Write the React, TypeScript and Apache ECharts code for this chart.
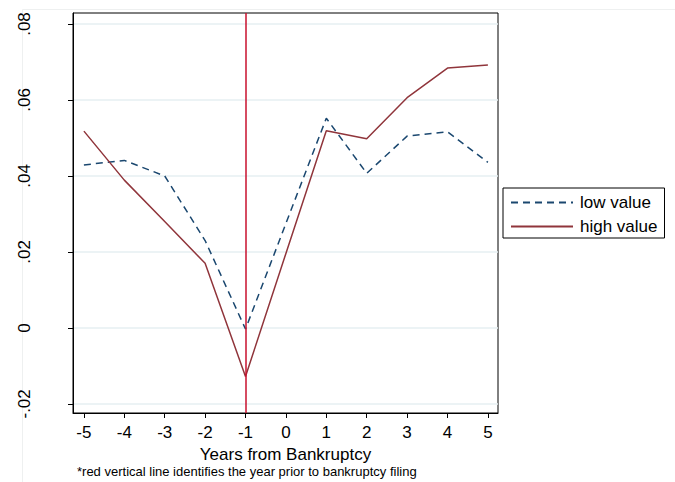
import React, { useEffect, useRef } from "react";
import * as echarts from "echarts";

const years = [-5, -4, -3, -2, -1, 0, 1, 2, 3, 4, 5];
const lowValue = [0.0429, 0.0441, 0.04, 0.023, -0.0003, 0.0275, 0.0552, 0.0407, 0.0505, 0.0516, 0.0436];
const highValue = [0.0518, 0.0389, 0.028, 0.017, -0.0128, 0.0196, 0.0519, 0.0498, 0.0606, 0.0684, 0.0692];
const yTicks = [-0.02, 0, 0.02, 0.04, 0.06, 0.08];
const xTicks = [-5, -4, -3, -2, -1, 0, 1, 2, 3, 4, 5];
const bankruptcyYear = -1;
const seriesNames = ["low value", "high value"];
const xTitle = "Years from Bankruptcy";
const footnote = "*red vertical line identifies the year prior to bankruptcy filing";

const FONT = "'Liberation Sans', Arial, sans-serif";

function fmtY(v: number): string {
  if (Math.abs(v) < 1e-9) return "0";
  const s = v.toFixed(2);
  return s.replace(/^(-?)0\./, "$1.");
}

export default function App() {
  const ref = useRef<HTMLDivElement>(null);
  useEffect(() => {
    if (!ref.current) return;
    const chart = echarts.init(ref.current, null, { renderer: "svg" });
    chart.setOption({
      animation: false,
      backgroundColor: "#ffffff",
      textStyle: { fontFamily: FONT },
      grid: {
        left: 73,
        top: 13,
        right: 177,
        bottom: 69,
        show: true,
        borderColor: "#000000",
        borderWidth: 1,
        backgroundColor: "#ffffff",
      },
      legend: {
        orient: "vertical",
        left: 503,
        top: 188,
        padding: [6, 7, 3, 7],
        itemGap: 7,
        itemWidth: 62,
        itemHeight: 14,
        borderColor: "#000000",
        borderWidth: 1,
        backgroundColor: "#ffffff",
        itemStyle: { color: "transparent", borderWidth: 0, opacity: 0 },
        textStyle: { fontFamily: FONT, fontSize: 17, color: "#000000", padding: [0, 0, 0, 2] },
        data: seriesNames,
      },
      xAxis: {
        type: "value",
        min: -5.27,
        max: 5.25,
        name: xTitle,
        nameLocation: "middle",
        nameGap: 24,
        nameTextStyle: { fontFamily: FONT, fontSize: 17, color: "#000000" },
        axisLine: { show: true, onZero: false, lineStyle: { color: "#000000", width: 1 } },
        axisTick: { show: true, length: 5, customValues: xTicks, lineStyle: { color: "#000000" } },
        axisLabel: {
          customValues: xTicks,
          margin: 11,
          fontFamily: FONT,
          fontSize: 17,
          color: "#000000",
          formatter: (v: number) => String(v),
        },
        splitLine: { show: false },
      },
      yAxis: {
        type: "value",
        min: -0.0224,
        max: 0.0829,
        axisLine: { show: true, onZero: false, lineStyle: { color: "#000000", width: 1 } },
        axisTick: { show: true, length: 5, customValues: yTicks, lineStyle: { color: "#000000" } },
        axisLabel: {
          customValues: yTicks,
          rotate: 90,
          margin: 40,
          fontFamily: FONT,
          fontSize: 17,
          color: "#000000",
          formatter: (v: number) => fmtY(v),
        },
        splitLine: { show: true, lineStyle: { color: "#e6eff2", width: 1.5 } },
      },
      series: [
        {
          name: seriesNames[0],
          type: "line",
          data: years.map((x, i) => [x, lowValue[i]]),
          symbol: "none",
          lineStyle: { color: "#1a476f", width: 1.5, type: [7, 5] },
          itemStyle: { color: "#1a476f" },
          z: 3,
        },
        {
          name: seriesNames[1],
          type: "line",
          data: years.map((x, i) => [x, highValue[i]]),
          symbol: "none",
          lineStyle: { color: "#90353b", width: 1.5, type: "solid" },
          itemStyle: { color: "#90353b" },
          z: 3,
          markLine: {
            silent: true,
            symbol: "none",
            label: { show: false },
            lineStyle: { color: "#c8102e", width: 1.5, type: "solid" },
            data: [{ xAxis: bankruptcyYear }],
          },
        },
      ],
      graphic: [
        {
          type: "rect",
          left: 20,
          top: 7,
          shape: { x: 0, y: 0, width: 700, height: 500 },
          style: { fill: "none", stroke: "#eef0f0", lineWidth: 1 },
          silent: true,
          z: -10,
        },
        {
          type: "text",
          left: 77,
          top: 465,
          style: { text: footnote, fontFamily: FONT, fontSize: 13, fill: "#000000" },
        },
      ],
    });
    return () => chart.dispose();
  }, []);
  return (
    <div
      ref={ref}
      style={{ position: "absolute", left: 0, top: 0, width: 675, height: 482 }}
    />
  );
}
